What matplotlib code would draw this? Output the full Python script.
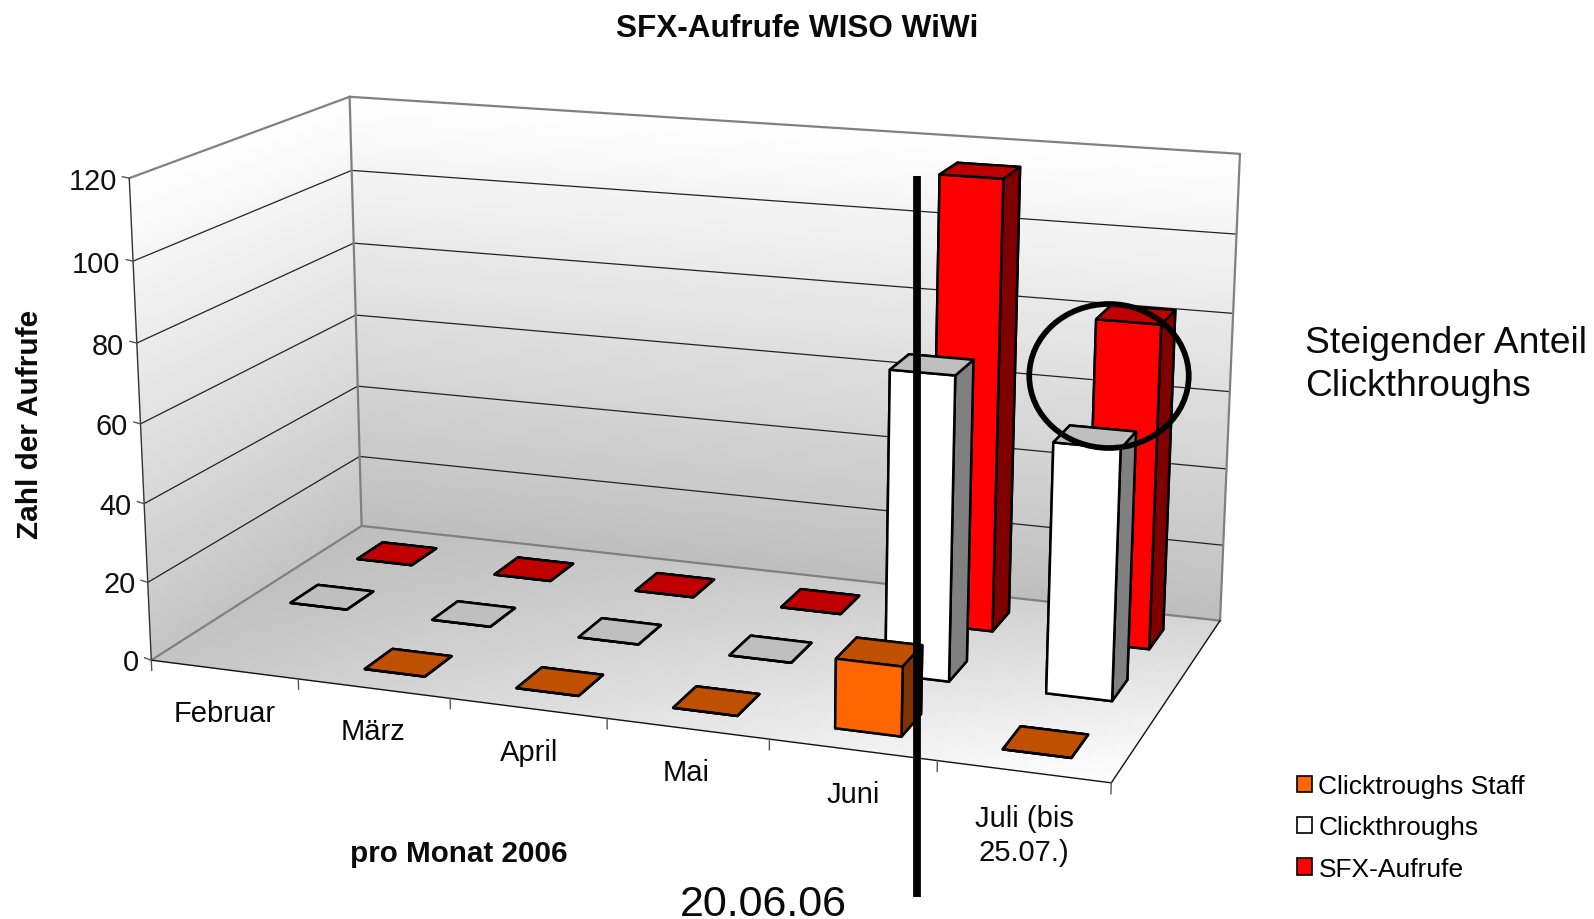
import numpy as np
import matplotlib
matplotlib.use('Agg')
import matplotlib.pyplot as plt
from mpl_toolkits.mplot3d import proj3d
from mpl_toolkits.mplot3d.art3d import Poly3DCollection
from matplotlib.patches import Ellipse, Patch
from matplotlib.lines import Line2D
from matplotlib.transforms import IdentityTransform

plt.rcParams['font.family'] = ['Liberation Sans', 'DejaVu Sans']

months = ['Februar', 'März', 'April', 'Mai', 'Juni', 'Juli (bis\n25.07.)']
staff = [np.nan, 0, 0, 0, 17, 0]
clicks = [0, 0, 0, 0, 76, 62]
sfx = [0, 0, 0, 0, 115.5, 82.5]
yticks = [0, 20, 40, 60, 80, 100, 120]

W, H = 1594, 920
fig = plt.figure(figsize=(W/100, H/100), dpi=100)
ax = fig.add_axes([0, 0, 1, 1], projection='3d', computed_zorder=False)
ax.set_axis_off()

# camera and view placement
ELEV, AZIM, ROLL = 15.19324, -69.93177, 0.04004
ASPECT = (np.exp(0.68268), np.exp(-0.01684), 1)
ZOOM = np.exp(0.62423)
SX, TX, SY, TY = 3380.65, 694.57, -3349.73, 408.49

ax.view_init(elev=ELEV, azim=AZIM, roll=ROLL)
ax.set_box_aspect(ASPECT, zoom=ZOOM)
x0, x1 = ax.viewLim.intervalx
y0, y1 = ax.viewLim.intervaly
left = TX + SX*x0
width = SX*(x1-x0)
bottom = H - (TY + SY*y0)
height = -SY*(y1-y0)
ax.set_position([left/W, bottom/H, width/W, height/H])
ax.apply_aspect = lambda position=None: None


def strips(quad_fn, n, color_fn, z):
    polys, cols = [], []
    for i in range(n):
        polys.append(quad_fn(i/n, (i+1)/n))
        cols.append(color_fn((i+.5)/n))
    ax.add_collection3d(Poly3DCollection(polys, facecolors=cols, edgecolors=cols, linewidths=0.6, zorder=z))


g = lambda t, lo, hi: (np.clip(lo + (hi-lo)*t, 0, 255)/255,)*3
strips(lambda a, b: [(0, 3, a*120), (6, 3, a*120), (6, 3, b*120), (0, 3, b*120)], 70, lambda t: g(t, 0xBE, 0xFF), 1)
strips(lambda a, b: [(0, 0, a*120), (0, 3, a*120), (0, 3, b*120), (0, 0, b*120)], 70, lambda t: g(t, 0xC4, 0xFF), 1)
polys, cols = [], []
nx, ny = 60, 30
for i in range(nx):
    for j in range(ny):
        u0, u1, v0, v1 = i/nx, (i+1)/nx, j/ny, (j+1)/ny
        polys.append([(6*u0, 3*v0, 0), (6*u1, 3*v0, 0), (6*u1, 3*v1, 0), (6*u0, 3*v1, 0)])
        u, v = (u0+u1)/2, (v0+v1)/2
        gv = (1-u)*(1-v)*0xC4 + (1-u)*v*0xBE + u*(1-v)*0xFF + u*v*0xD4
        cols.append((gv/255,)*3)
ax.add_collection3d(Poly3DCollection(polys, facecolors=cols, edgecolors=cols, linewidths=0.6, zorder=1))

# grid and edges
for t in yticks[1:-1]:
    ax.plot([0, 0, 6], [0, 3, 3], [t, t, t], color='#222222', lw=0.9, zorder=2)
wall = dict(color='#808080', lw=1.6, zorder=3)
ax.plot([0, 0, 6, 6], [0, 3, 3, 3], [120, 120, 120, 0], **wall)
ax.plot([0, 0], [3, 3], [0, 120], **wall)
ax.plot([0, 0, 6], [0, 3, 3], [0, 0, 0], **wall)
ax.plot([0, 0], [0, 0], [0, 120], color='#333333', lw=1.0, zorder=3)
ax.plot([0, 6, 6], [0, 0, 3], [0, 0, 0], color='#111111', lw=1.0, zorder=3)
for i in range(7):
    ax.plot([i, i], [0, 0], [0, -2.6], color='#555555', lw=1.0, zorder=3)
for t in yticks:
    ax.plot([0, -0.06], [0, 0.025], [t, t], color='#555555', lw=1.0, zorder=3)

# bars
GAP = 0.3
styles = [
    (sfx, 2, ('#C00000', '#FF0000', '#800000')),
    (clicks, 1, ('#BFBFBF', '#FFFFFF', '#808080')),
    (staff, 0, ('#BF5000', '#FF6600', '#803300')),
]
for k, (vals, row, (top, front, side)) in enumerate(styles):
    for i, v in enumerate(vals):
        if np.isnan(v):
            continue
        ax.bar3d(i+GAP, row+GAP, 0, 1-2*GAP, 1-2*GAP, v, color=[top, top, front, front, side, side],
                 edgecolor='k', linewidth=1.8, shade=False, zorder=10+k)

ax.set_xlim(0, 6, view_margin=0)
ax.set_ylim(0, 3, view_margin=0)
ax.set_zlim(0, 120, view_margin=0)
for a in list(ax.collections) + list(ax.lines):
    a.set_clip_on(False)

# value-axis labels placed through the 3D projection
M = ax.get_proj()
for t in yticks:
    xv, yv, _ = proj3d.proj_transform(-0.11, 0.045, t - 0.7, M)
    ax.text2D(xv, yv, str(t), transform=ax.transData, ha='right', va='center_baseline',
              fontsize=20.8, color='#111111', clip_on=False)


def T(x, y, s, **kw):
    kw.setdefault('ha', 'center')
    kw.setdefault('va', 'center')
    kw.setdefault('color', '#0a0a0a')
    fig.text(x/W, 1-y/H, s, **kw)


T(797, 29, 'SFX-Aufrufe WISO WiWi', fontsize=22.7, fontweight='bold')
T(30, 424, 'Zahl der Aufrufe', fontsize=21.4, fontweight='bold', rotation=90)
T(458.5, 854, 'pro Monat 2006', fontsize=21.3, fontweight='bold')
labelpos = [(225, 714), (373, 732), (529, 753), (686.5, 773), (853, 795), (1024, 836)]
for m, (x, y) in zip(months, labelpos):
    T(x, y, m, fontsize=21, linespacing=1.3)
T(1305, 365, 'Steigender Anteil\nClickthroughs', fontsize=26.8, ha='left', linespacing=1.29)
T(763, 905, '20.06.06', fontsize=31)

fig.add_artist(Line2D([916.7/W]*2, [1-177/H, 1-898/H], color='k', lw=5.6, solid_capstyle='butt', zorder=20))
fig.add_artist(Ellipse((1109, H-377), 159.5, 144, fill=False, edgecolor='k', lw=4.1,
                       transform=IdentityTransform(), zorder=20))

handles = [Patch(facecolor='#FF6600', edgecolor='k', lw=1.2), Patch(facecolor='white', edgecolor='k', lw=1.2),
           Patch(facecolor='#FF0000', edgecolor='k', lw=1.2)]
fig.legend(handles, ['Clicktroughs Staff', 'Clickthroughs', 'SFX-Aufrufe'], loc='upper left',
           bbox_to_anchor=(1297/W, 1-775/H), frameon=False, fontsize=19, handlelength=0.56, handleheight=0.56,
           handletextpad=0.25, labelspacing=0.66, borderpad=0, borderaxespad=0)

fig.savefig('out.png', dpi=100)
